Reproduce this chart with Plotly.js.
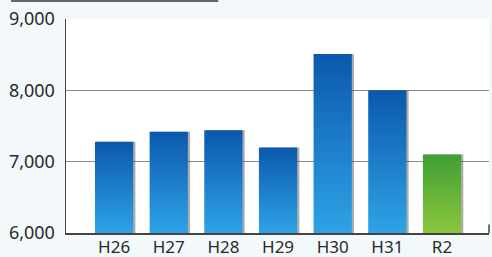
<!DOCTYPE html>
<html>
<head>
<meta charset="utf-8">
<script src="https://cdn.plot.ly/plotly-3.0.1.min.js"></script>
<style>
html,body{margin:0;padding:0;background:#f3f8fb;}
#chart{width:492px;height:257px;}
</style>
</head>
<body>
<div id="chart"></div>
<script>
const categories = ["H26","H27","H28","H29","H30","H31","R2"];
const values = [7280, 7420, 7440, 7200, 8510, 8000, 7100];
const barKinds = ["blue","blue","blue","blue","blue","blue","green"];
const yTickVals = [6000, 7000, 8000, 9000];
const yTickText = ["6,000","7,000","8,000","9,000"];

const solid = {blue:"#1469c0", green:"#5cb23a"};

const shadow = {
  type:"bar", x:categories, y:values.map(v=>v-6000), base:6000,
  width:0.7, offset:-0.31,
  marker:{color:"rgba(50,50,50,0.4)", line:{width:0}},
  hoverinfo:"skip", showlegend:false
};
const bars = {
  type:"bar", x:categories, y:values.map(v=>v-6000), base:6000,
  width:0.7,
  marker:{color:barKinds.map(k=>solid[k]), line:{width:0}},
  showlegend:false
};

const layout = {
  width:492, height:257,
  margin:{l:66, r:3, t:19, b:24, pad:0},
  paper_bgcolor:"#f3f8fb",
  plot_bgcolor:"#ffffff",
  barmode:"overlay",
  font:{family:"Noto Sans, DejaVu Sans, sans-serif", size:18, color:"#2a2a2a"},
  xaxis:{
    type:"category", range:[-0.88, 6.86],
    showline:true, linecolor:"#444", linewidth:1.5,
    ticks:"", showgrid:false, zeroline:false,
    tickfont:{size:17, color:"#2a2a2a"}, ticklabelstandoff:-2
  },
  yaxis:{
    range:[6000, 9000], tickvals:yTickVals, ticktext:yTickText,
    showline:true, linecolor:"#444", linewidth:1.5,
    showgrid:true, gridcolor:"#8a8a8a", gridwidth:1.2,
    zeroline:false, ticks:"", ticklabelstandoff:6,
    tickfont:{size:18, color:"#2a2a2a"}
  },
  shapes:[
    {type:"line", xref:"paper", yref:"paper", x0:1, x1:1, y0:0, y1:0.04,
     line:{color:"#444", width:1.5}},
    {type:"line", xref:"paper", yref:"paper", x0:-0.13, x1:0.36, y0:1.085, y1:1.085,
     line:{color:"#666", width:2.5}}
  ]
};

Plotly.newPlot("chart", [shadow, bars], layout, {staticPlot:true, displayModeBar:false}).then(function(){
  const svg = document.querySelector("#chart .main-svg");
  const ns = "http://www.w3.org/2000/svg";
  let defs = svg.querySelector("defs");
  if(!defs){ defs = document.createElementNS(ns,"defs"); svg.insertBefore(defs, svg.firstChild); }
  function grad(id, top, bottom){
    const g = document.createElementNS(ns,"linearGradient");
    g.setAttribute("id", id);
    g.setAttribute("x1","0"); g.setAttribute("y1","0");
    g.setAttribute("x2","0"); g.setAttribute("y2","1");
    const s1 = document.createElementNS(ns,"stop"); s1.setAttribute("offset","0"); s1.setAttribute("stop-color",top);
    const s2 = document.createElementNS(ns,"stop"); s2.setAttribute("offset","1"); s2.setAttribute("stop-color",bottom);
    g.appendChild(s1); g.appendChild(s2); defs.appendChild(g);
  }
  grad("gBlue", "#0b58ad", "#2ea3e6");
  grad("gGreen", "#3f9f35", "#8cc63e");
  const traces = document.querySelectorAll("#chart .barlayer .trace");
  if(traces.length > 1){
    traces[1].querySelectorAll(".point path").forEach(function(p, i){
      p.style.fill = barKinds[i] === "green" ? "url(#gGreen)" : "url(#gBlue)";
    });
  }
});
</script>
</body>
</html>
